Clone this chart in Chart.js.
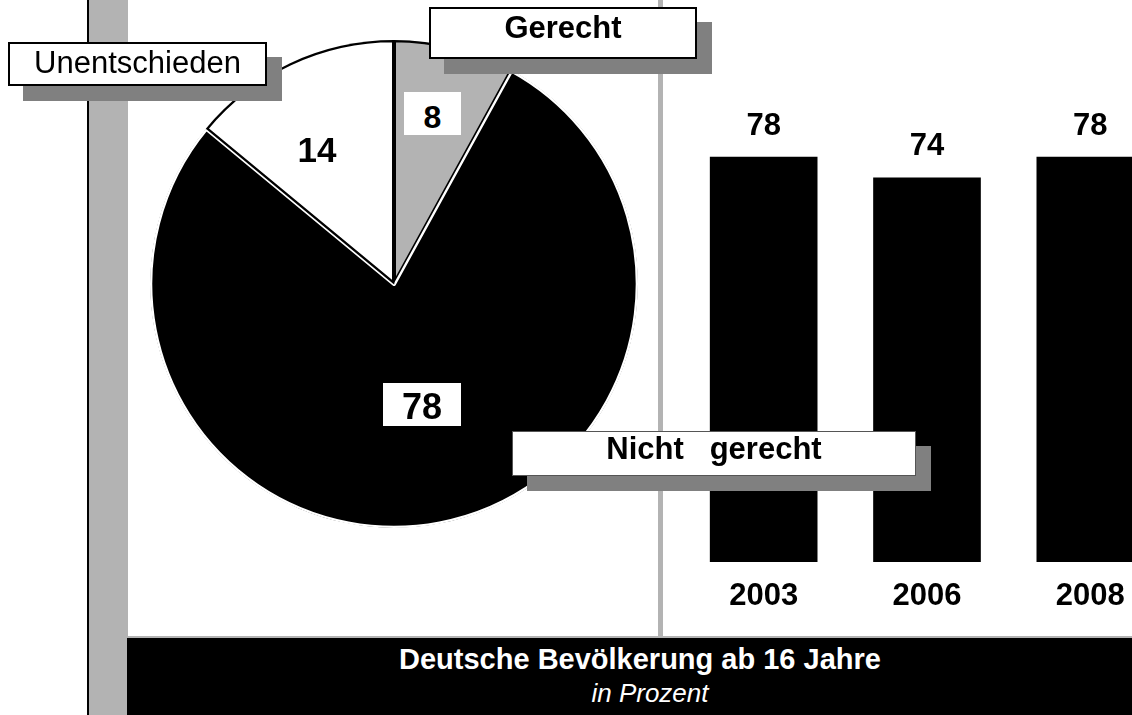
<!DOCTYPE html>
<html lang="de">
<head>
<meta charset="utf-8">
<title>Deutsche Bevölkerung ab 16 Jahre</title>
<script src="https://cdn.jsdelivr.net/npm/chart.js@4.4.0/dist/chart.umd.min.js"></script>
<style>
  html, body { margin: 0; padding: 0; background: #fff; overflow: hidden; }
  body {
    width: 1132px; height: 715px; position: relative;
    font-family: "Liberation Sans", Arial, sans-serif; color: #000;
  }
  .abs { position: absolute; }
  #leiste { left: 87px; top: 0; width: 2px; height: 715px; background: #000; }
  #leisteGrau { left: 89px; top: 0; width: 39px; height: 715px; background: #b3b3b3; }
  #trenner { left: 658px; top: 0; width: 5px; height: 637px; background: #b3b3b3; }
  #band {
    left: 127px; top: 636px; width: 1005px; height: 79px; background: #000;
    border-top: 2px solid #b3b3b3; box-sizing: border-box;
  }
  #bandText {
    left: 128px; top: 642px; width: 1024px; text-align: center; color: #fff;
    line-height: 34px;
  }
  #bandText .t1 { font-weight: bold; font-size: 29px; display: block; }
  #bandText .t2 { font-style: italic; font-size: 26px; display: block; padding-left: 20px; }
  #torte { left: 144px; top: 34px; }
  #balken { left: 682px; top: 0; }
  .kasten {
    position: absolute; background: #fff; border: 2px solid #000; box-sizing: border-box;
    box-shadow: 15px 15px 0 #808080; display: flex; align-items: center;
    justify-content: center; font-size: 31px; white-space: pre;
  }
  .wert {
    position: absolute; font-weight: bold; display: flex; align-items: center;
    justify-content: center; box-sizing: border-box;
  }
</style>
</head>
<body>
<div class="abs" id="leiste"></div>
<div class="abs" id="leisteGrau"></div>
<div class="abs" id="trenner"></div>
<div class="abs" id="band"></div>
<div class="abs" id="bandText"><span class="t1">Deutsche Bevölkerung ab 16 Jahre</span><span class="t2">in Prozent</span></div>

<canvas class="abs" id="balken" width="490" height="637"></canvas>
<canvas class="abs" id="torte" width="500" height="500"></canvas>

<div class="wert" id="wertGerecht" style="left:404px;top:92px;width:57px;height:43px;background:#fff;font-size:32px;padding-top:8px;"></div>
<div class="wert" id="wertUnent" style="left:286px;top:128px;width:62px;height:44px;font-size:35px;"></div>
<div class="wert" id="wertNicht" style="left:383px;top:383px;width:78px;height:43px;background:#fff;font-size:36px;padding-top:4px;"></div>

<div class="kasten" id="kUnent" style="left:8px;top:42px;width:259px;height:44px;padding-bottom:2px;"></div>
<div class="kasten" id="kGerecht" style="left:429px;top:7px;width:268px;height:52px;font-weight:bold;padding-bottom:10px;"></div>
<div class="kasten" id="kNicht" style="left:512px;top:431px;width:404px;height:45px;font-weight:bold;border:1px solid #555;padding-bottom:10px;"></div>

<script>
// Kreisdiagramm: aktuelle Einschätzung
const pieLabels = ["Gerecht", "Nicht   gerecht", "Unentschieden"];
const pieValues = [8, 78, 14];
const pieColors = ["#b3b3b3", "#000000", "#ffffff"];

// Balken: "Nicht gerecht" im Zeitverlauf
const barYears = ["2003", "2006", "2008"];
const barValues = [78, 74, 78];

// Texte in die Kästen schreiben
document.getElementById("kGerecht").textContent = pieLabels[0];
document.getElementById("kNicht").textContent = pieLabels[1];
document.getElementById("kUnent").textContent = pieLabels[2];
document.getElementById("wertGerecht").textContent = pieValues[0];
document.getElementById("wertNicht").textContent = pieValues[1];
document.getElementById("wertUnent").textContent = pieValues[2];

new Chart(document.getElementById("torte"), {
  type: "pie",
  data: {
    labels: pieLabels,
    datasets: [
      {
        data: pieValues,
        backgroundColor: pieColors,
        borderColor: ["#000000", "#ffffff", "#000000"],
        borderWidth: 2,
        borderAlign: "inner",
      },
    ],
  },
  options: {
    responsive: false,
    animation: false,
    events: [],
    radius: 244,
    plugins: { legend: { display: false }, tooltip: { enabled: false } },
  },
});

// Werte über und Jahre unter die Balken
const balkenBeschriftung = {
  id: "balkenBeschriftung",
  afterDatasetsDraw(chart) {
    const ctx = chart.ctx;
    const meta = chart.getDatasetMeta(0);
    const yNull = chart.scales.y.getPixelForValue(0);
    ctx.save();
    ctx.font = "bold 31px 'Liberation Sans', Arial, sans-serif";
    ctx.fillStyle = "#000";
    ctx.textAlign = "center";
    ctx.textBaseline = "middle";
    meta.data.forEach((bar, i) => {
      ctx.fillText(String(barValues[i]), bar.x, bar.y - 31);
      ctx.fillText(barYears[i], bar.x, yNull + 34);
    });
    ctx.restore();
  },
};

new Chart(document.getElementById("balken"), {
  type: "bar",
  data: {
    labels: barYears,
    datasets: [{ data: barValues, backgroundColor: "#000000", barThickness: 107 }],
  },
  options: {
    responsive: false,
    animation: false,
    events: [],
    layout: { padding: { top: 43, bottom: 75, left: 0, right: 0 } },
    scales: {
      x: { display: false },
      y: { display: false, min: 0, max: 100 },
    },
    plugins: { legend: { display: false }, tooltip: { enabled: false } },
  },
  plugins: [balkenBeschriftung],
});
</script>
</body>
</html>
